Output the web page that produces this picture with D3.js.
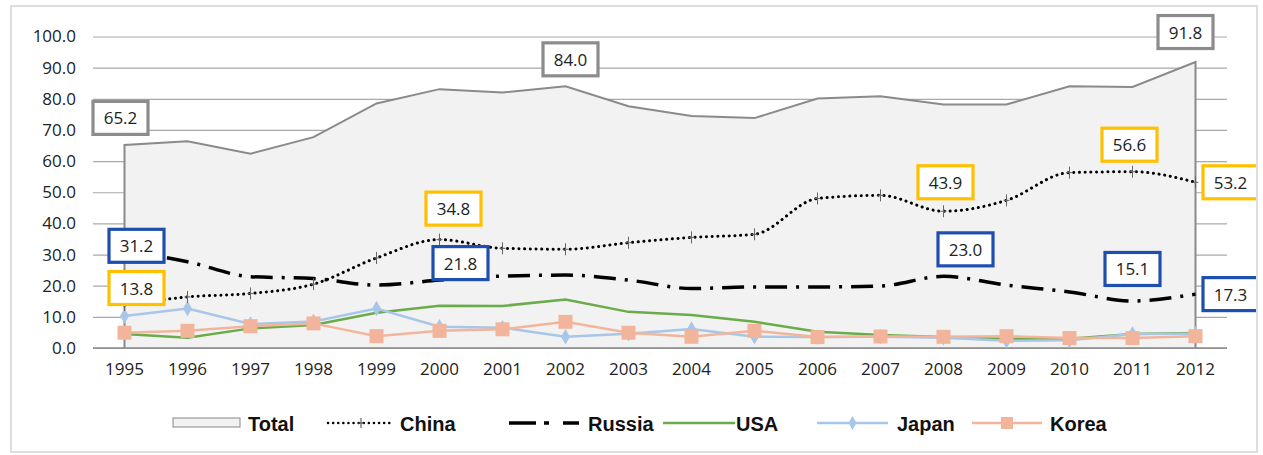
<!DOCTYPE html>
<html><head><meta charset="utf-8">
<script src="https://cdn.jsdelivr.net/npm/d3@7"></script>
<style>
html,body{margin:0;padding:0;background:#fff;}
svg{display:block;}
</style></head>
<body>
<svg id="chart" width="1263" height="455"></svg>
<script>
const years = ["1995","1996","1997","1998","1999","2000","2001","2002","2003","2004","2005","2006","2007","2008","2009","2010","2011","2012"];
const total = [65.2,66.4,62.4,67.7,78.5,83.1,82.0,84.0,77.6,74.5,73.8,80.1,80.8,78.2,78.2,84.0,83.8,91.8];
const china = [13.8,16.4,17.5,20.5,28.9,34.8,32.0,31.7,33.8,35.5,36.5,48.0,49.0,43.9,47.4,56.3,56.6,53.2];
const russia = [31.2,27.7,22.9,22.3,20.2,21.8,23.1,23.4,21.8,19.1,19.6,19.6,19.9,23.0,20.2,18.0,15.1,17.3];
const usa = [4.5,3.3,6.3,7.4,11.3,13.6,13.5,15.6,11.6,10.6,8.4,5.2,4.2,3.5,3.0,3.0,4.5,4.8];
const japan = [10.3,12.7,7.7,8.5,12.7,6.8,6.5,3.6,4.6,6.1,3.6,3.5,3.6,3.3,2.3,2.5,4.5,4.6];
const korea = [4.9,5.5,7.0,7.9,3.8,5.5,6.0,8.4,4.9,3.6,5.5,3.5,3.7,3.6,3.8,3.2,3.2,3.8];
const yTicks = [0,10,20,30,40,50,60,70,80,90,100];
const seriesNames = ["Total","China","Russia","USA","Japan","Korea"];

// labelled points: series, year index
const labelPoints = [
  ["Total",0],["Total",7],["Total",17],
  ["China",0],["China",5],["China",13],["China",16],["China",17],
  ["Russia",0],["Russia",5],["Russia",13],["Russia",16],["Russia",17]
];
// layout offsets for the label boxes (centre relative to point)
const labelOffsets = [
  [-4,-27],[5,-27],[-10,-30],
  [12,-17],[14,-31],[2,-29],[-3,-27],[35,0],
  [12,-5],[21,-17],[22,-27],[0,-32],[35,0]
];

const dataBy = {Total: total, China: china, Russia: russia, USA: usa, Japan: japan, Korea: korea};
const boxColor = {Total:"#8c8c8c", China:"#ffc000", Russia:"#1f4fae"};

const svg = d3.select("#chart");
svg.append("rect").attr("x",11).attr("y",6).attr("width",1246).attr("height",446)
  .attr("fill","#fff").attr("stroke","#dedede").attr("stroke-width",2);

const defs = svg.append("defs");
defs.append("clipPath").attr("id","frameClip").append("rect")
  .attr("x",12).attr("y",7).attr("width",1244).attr("height",444);

const x = d3.scaleBand().domain(years).range([93,1227]);
const cx = d => x(d) + x.bandwidth()/2;
const y = d3.scaleLinear().domain([0,100]).range([348,36.5]);

// gridlines
const grid = svg.append("g").attr("transform","translate(93,0)")
  .call(d3.axisLeft(y).tickValues(yTicks).tickSize(-1134).tickFormat(""));
grid.select(".domain").remove();
grid.selectAll("line").attr("stroke","#a9a9a9").attr("stroke-width",1.2);

// y labels
const yAx = svg.append("g").attr("transform","translate(93,0)")
  .call(d3.axisLeft(y).tickValues(yTicks).tickSize(0).tickPadding(17).tickFormat(d3.format(".1f")));
yAx.select(".domain").remove();
yAx.selectAll("text").attr("font-family","'Open Sans', sans-serif").attr("font-size",17).attr("fill","#222");

// Total area
const area = d3.area().x((d,i)=>cx(years[i])).y0(y(0)).y1(d=>y(d));
svg.append("path").datum(total).attr("d",area).attr("fill","#f2f2f2").attr("stroke","none");
const totalLine = d3.line().x((d,i)=>cx(years[i])).y(d=>y(d));
svg.append("path").datum(total)
  .attr("d", "M"+cx(years[0])+","+y(0)+"L"+totalLine(total).slice(1)+"L"+cx(years[years.length-1])+","+y(0))
  .attr("fill","none").attr("stroke","#8a8a8a").attr("stroke-width",2);

// baseline
svg.append("line").attr("x1",93).attr("x2",1227).attr("y1",y(0)).attr("y2",y(0))
  .attr("stroke","#8a8a8a").attr("stroke-width",1.5);

// x labels
const xAx = svg.append("g").attr("transform","translate(0,"+y(0)+")")
  .call(d3.axisBottom(x).tickSize(0).tickPadding(15));
xAx.select(".domain").remove();
xAx.selectAll("text").attr("font-family","'Open Sans', sans-serif").attr("font-size",17).attr("fill","#222");

const line = d3.line().x((d,i)=>cx(years[i])).y(d=>y(d));

// USA
svg.append("path").datum(usa).attr("d",line).attr("fill","none").attr("stroke","#6aab4a").attr("stroke-width",2.5);

// Japan
svg.append("path").datum(japan).attr("d",line).attr("fill","none").attr("stroke","#a8c6e8").attr("stroke-width",2.5);
svg.append("g").selectAll("path").data(japan).join("path")
  .attr("d", d3.symbol().type(d3.symbolDiamond).size(70))
  .attr("transform",(d,i)=>"translate("+cx(years[i])+","+y(d)+")")
  .attr("fill","#a8c6e8");

// Korea
svg.append("path").datum(korea).attr("d",line).attr("fill","none").attr("stroke","#f2b59c").attr("stroke-width",2.5);
svg.append("g").selectAll("rect").data(korea).join("rect")
  .attr("x",(d,i)=>cx(years[i])-7).attr("y",d=>y(d)-7).attr("width",14).attr("height",14)
  .attr("fill","#f2b59c");

// Russia
const russiaCurve = d3.line().x((d,i)=>cx(years[i])).y(d=>y(d)).curve(d3.curveMonotoneX);
svg.append("path").datum(russia).attr("d",russiaCurve).attr("fill","none")
  .attr("stroke","#000").attr("stroke-width",3.5).attr("stroke-dasharray","22 9 3 9");

// China
const chinaCurve = d3.line().x((d,i)=>cx(years[i])).y(d=>y(d)).curve(d3.curveMonotoneX);
svg.append("path").datum(china).attr("d",chinaCurve).attr("fill","none")
  .attr("stroke","#000").attr("stroke-width",3).attr("stroke-linecap","round").attr("stroke-dasharray","0.1 5.6");
svg.append("g").selectAll("path").data(china).join("path")
  .attr("d","M-3,0H3M0,-6V6")
  .attr("transform",(d,i)=>"translate("+cx(years[i])+","+y(d)+")")
  .attr("fill","none").attr("stroke","#666").attr("stroke-width",1);

// labels
const lblG = svg.append("g").attr("clip-path","url(#frameClip)");
labelPoints.forEach((lp,k)=>{
  const [name, idx] = lp;
  const v = dataBy[name][idx];
  const px = cx(years[idx]) + labelOffsets[k][0];
  const py = y(v) + labelOffsets[k][1];
  lblG.append("rect").attr("x",px-27.5).attr("y",py-16.5).attr("width",55).attr("height",33)
    .attr("fill","#fff").attr("stroke",boxColor[name]).attr("stroke-width",3.2);
  lblG.append("text").attr("x",px).attr("y",py+6.5).attr("text-anchor","middle")
    .attr("font-family","'Open Sans', sans-serif").attr("font-size",17).attr("fill","#222")
    .text(d3.format(".1f")(v));
});

// legend
const leg = svg.append("g");
const legY = 423;
const legFont = "'Liberation Sans',Arial,sans-serif";
const legItems = [
  {name:"Total", x0:173, x1:240, tx:248},
  {name:"China", x0:328, x1:394, tx:400},
  {name:"Russia", x0:509, x1:580, tx:588},
  {name:"USA", x0:663, x1:735, tx:736},
  {name:"Japan", x0:817, x1:888, tx:897},
  {name:"Korea", x0:972, x1:1042, tx:1050}
];
legItems.forEach(it=>{
  if(it.name==="Total"){
    leg.append("rect").attr("x",it.x0).attr("y",legY-5).attr("width",it.x1-it.x0).attr("height",9)
      .attr("fill","#f2f2f2").attr("stroke","#9a9a9a").attr("stroke-width",1.2);
  } else if(it.name==="China"){
    leg.append("line").attr("x1",it.x0).attr("x2",it.x1).attr("y1",legY).attr("y2",legY)
      .attr("stroke","#000").attr("stroke-width",2.5).attr("stroke-linecap","round").attr("stroke-dasharray","0.1 5");
    leg.append("path").attr("d","M-3,0H3M0,-5V5")
      .attr("transform","translate("+((it.x0+it.x1)/2)+","+legY+")")
      .attr("fill","none").attr("stroke","#444").attr("stroke-width",1);
  } else if(it.name==="Russia"){
    leg.append("line").attr("x1",it.x0).attr("x2",it.x1).attr("y1",legY).attr("y2",legY)
      .attr("stroke","#000").attr("stroke-width",3.5).attr("stroke-dasharray","27 8 5 14 16");
  } else if(it.name==="USA"){
    leg.append("line").attr("x1",it.x0).attr("x2",it.x1).attr("y1",legY).attr("y2",legY)
      .attr("stroke","#6aab4a").attr("stroke-width",2.5);
  } else if(it.name==="Japan"){
    leg.append("line").attr("x1",it.x0).attr("x2",it.x1).attr("y1",legY).attr("y2",legY)
      .attr("stroke","#a8c6e8").attr("stroke-width",2.5);
    leg.append("path").attr("d",d3.symbol().type(d3.symbolDiamond).size(55)())
      .attr("transform","translate("+((it.x0+it.x1)/2)+","+legY+")").attr("fill","#a8c6e8");
  } else {
    leg.append("line").attr("x1",it.x0).attr("x2",it.x1).attr("y1",legY).attr("y2",legY)
      .attr("stroke","#f2b59c").attr("stroke-width",2.5);
    leg.append("rect").attr("x",(it.x0+it.x1)/2-6).attr("y",legY-6).attr("width",12).attr("height",12)
      .attr("fill","#f2b59c");
  }
  leg.append("text").attr("x",it.tx).attr("y",legY+8)
    .attr("font-family",legFont).attr("font-weight","bold").attr("font-size",20).attr("fill","#111")
    .text(it.name);
});
</script>
</body></html>
